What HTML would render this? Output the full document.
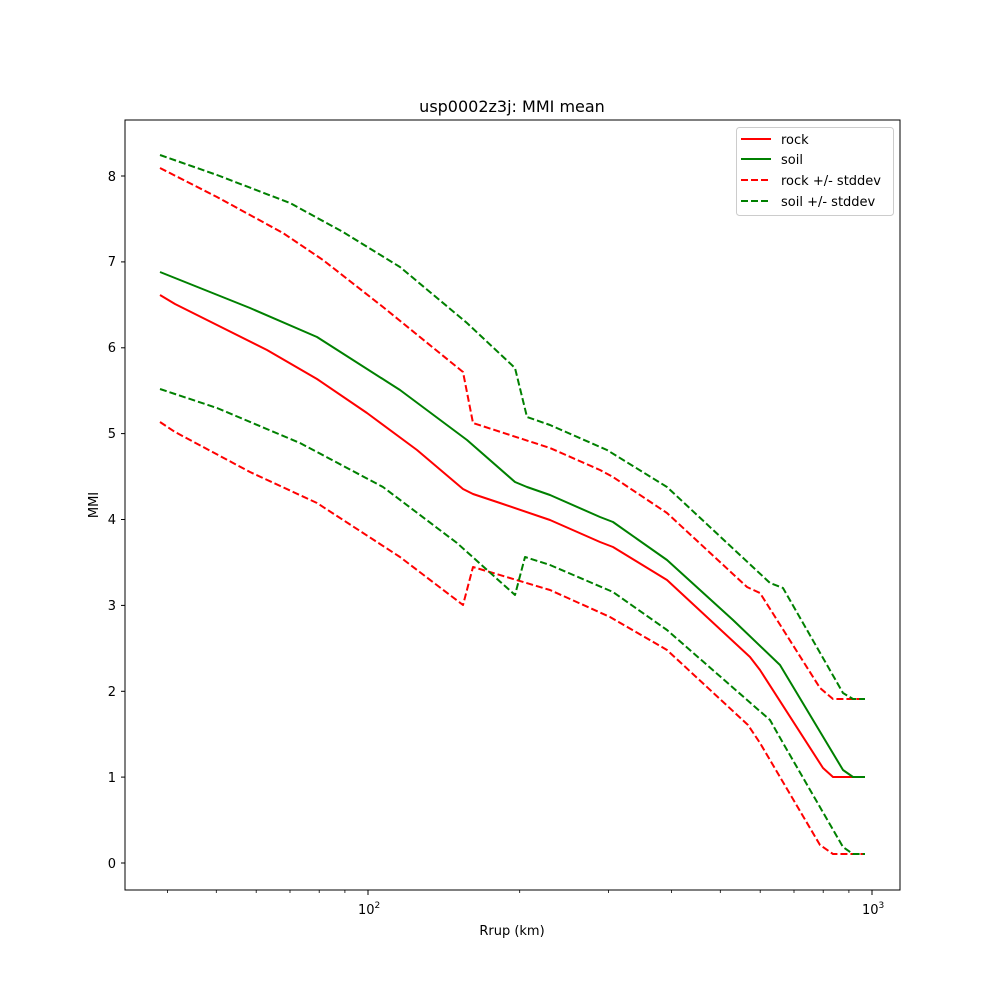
<!DOCTYPE html>
<html><head><style>body{margin:0;background:#fff}svg{display:block}text{font-family:"DejaVu Sans","Liberation Sans",sans-serif;fill:#000}</style></head>
<body>
<svg width="1000" height="1000" viewBox="0 0 1000 1000" xmlns="http://www.w3.org/2000/svg">
<rect width="1000" height="1000" fill="#fff"/>
<g fill="none" stroke-width="2" stroke-linejoin="round">
<polyline stroke="#ff0000" points="160,295 175,304 217,325 267,350 317,379 367,413 417,450 463,489 473,494 500,503 550,520 600,542 613,547 667,580 750,657 760,670 823,768 833,777 865,777"/>
<polyline stroke="#008000" points="160,272 175,278 250,308 317,337 400,390 467,440 515,482 527,487 550,495 600,517 613,522 667,560 733,620 780,665 843,770 853,777 865,777"/>
<g stroke-dasharray="7,3">
<polyline stroke="#ff0000" points="160,168 217,197 283,233 323,260 383,307 463,372 473,423 550,448 600,470 613,477 667,513 747,587 760,593 820,688 833,699 865,699"/>
<polyline stroke="#008000" points="160,155 217,175 290,203 343,232 400,267 467,323 515,368 527,417 550,425 607,450 667,487 770,583 783,588 843,693 853,699 865,699"/>
<polyline stroke="#ff0000" points="160,422 175,432 250,472 317,503 400,557 463,605 473,567 550,590 610,617 667,650 748,725 760,743 820,845 833,854 865,854"/>
<polyline stroke="#008000" points="160,389 217,408 300,443 383,487 457,543 515,595 525,557 550,565 613,592 667,630 770,720 783,743 843,847 853,854 865,854"/>
</g>
</g>
<rect x="125" y="120" width="775" height="770" fill="none" stroke="#000" stroke-width="1"/>
<g stroke="#000" stroke-width="1">
<line x1="125" x2="121" y1="863" y2="863"/><line x1="125" x2="121" y1="777.1" y2="777.1"/><line x1="125" x2="121" y1="691.3" y2="691.3"/><line x1="125" x2="121" y1="605.4" y2="605.4"/><line x1="125" x2="121" y1="519.5" y2="519.5"/><line x1="125" x2="121" y1="433.6" y2="433.6"/><line x1="125" x2="121" y1="347.8" y2="347.8"/><line x1="125" x2="121" y1="261.9" y2="261.9"/><line x1="125" x2="121" y1="176" y2="176"/>
<line x1="368" x2="368" y1="890" y2="895"/><line x1="872" x2="872" y1="890" y2="895"/>
<g stroke-width="0.8">
<line x1="167.4" x2="167.4" y1="890" y2="893"/><line x1="216.3" x2="216.3" y1="890" y2="893"/><line x1="256.2" x2="256.2" y1="890" y2="893"/><line x1="290" x2="290" y1="890" y2="893"/><line x1="319.2" x2="319.2" y1="890" y2="893"/><line x1="344.9" x2="344.9" y1="890" y2="893"/>
<line x1="519.7" x2="519.7" y1="890" y2="893"/><line x1="608.5" x2="608.5" y1="890" y2="893"/><line x1="671.4" x2="671.4" y1="890" y2="893"/><line x1="720.3" x2="720.3" y1="890" y2="893"/><line x1="760.2" x2="760.2" y1="890" y2="893"/><line x1="794" x2="794" y1="890" y2="893"/><line x1="823.2" x2="823.2" y1="890" y2="893"/><line x1="848.9" x2="848.9" y1="890" y2="893"/>
</g></g>
<g font-size="13" text-anchor="end">
<text x="116" y="868">0</text><text x="116" y="782">1</text><text x="116" y="696">2</text><text x="116" y="610">3</text><text x="116" y="524">4</text><text x="116" y="438">5</text><text x="116" y="352">6</text><text x="116" y="266">7</text><text x="116" y="181">8</text>
</g>
<text x="358" y="914" font-size="13">10<tspan font-size="9" dy="-6">2</tspan></text>
<text x="862" y="914" font-size="13">10<tspan font-size="9" dy="-6">3</tspan></text>
<text x="512" y="935" font-size="13" text-anchor="middle">Rrup (km)</text>
<text x="98" y="505" font-size="13" text-anchor="middle" transform="rotate(-90 98 505)">MMI</text>
<text x="512" y="112" font-size="16" text-anchor="middle">usp0002z3j: MMI mean</text>
<rect x="736.5" y="127.5" width="157" height="88" rx="3" fill="#fff" stroke="#ccc"/>
<g stroke-width="2">
<line x1="741" x2="771" y1="139" y2="139" stroke="#ff0000"/>
<line x1="741" x2="771" y1="159" y2="159" stroke="#008000"/>
<line x1="741" x2="771" y1="180" y2="180" stroke="#ff0000" stroke-dasharray="7,3"/>
<line x1="741" x2="771" y1="201" y2="201" stroke="#008000" stroke-dasharray="7,3"/>
</g>
<g font-size="13">
<text x="781" y="144">rock</text><text x="781" y="164">soil</text><text x="781" y="185">rock +/- stddev</text><text x="781" y="206">soil +/- stddev</text>
</g>
</svg>
</body></html>
